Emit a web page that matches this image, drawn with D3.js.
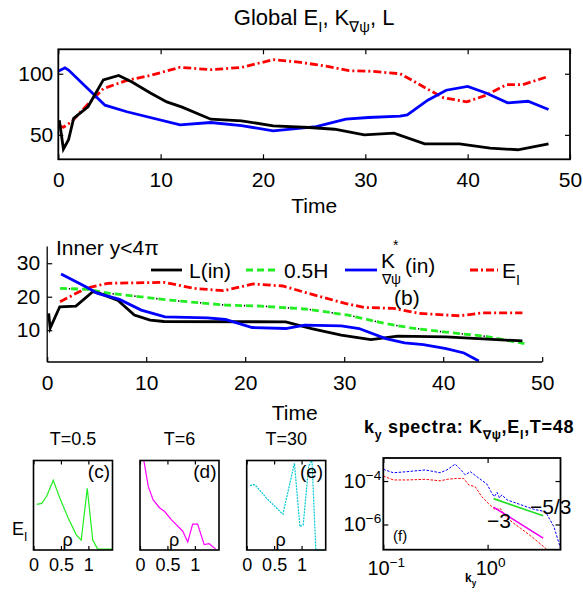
<!DOCTYPE html>
<html>
<head>
<meta charset="utf-8">
<script src="https://cdn.jsdelivr.net/npm/d3@7"></script>
<style>
  body { margin: 0; background: #fff; }
  text { fill: #000; }
</style>
</head>
<body>
<div id="graf"></div>
<script>
// ---- data ----

// (a) global quantities vs time
const tL = [0.1, 0.5, 1.0, 1.5, 2.9, 4.4, 5.9, 7.2, 9.0, 10.6, 12.1, 14.9, 17.9, 21.0, 24.5, 27.0, 29.9, 32.8, 35.8, 39.2, 42.2, 44.9, 47.9]
const valL = [62, 38.4, 46, 63.5, 73, 95, 98.6, 93.2, 84.3, 77, 72.7, 62.8, 61.5, 57.4, 56, 54.6, 50, 51.4, 42.7, 42.6, 39.2, 37.8, 42.7]
const tK = [0, 0.65, 1.0, 4.56, 6.7, 11.9, 14.9, 17.9, 21.0, 25.2, 28.1, 30.3, 33.4, 34.1, 36.1, 37.9, 40.0, 41.8, 43.9, 45.9, 47.9]
const valK = [102, 104.9, 103, 74.3, 68.9, 58.1, 60.1, 57.6, 53.3, 56.8, 62.8, 64.2, 65.4, 66.4, 78.4, 86.5, 89.7, 84.3, 76.2, 77.5, 70.8]
const tE = [0, 0.5, 1.3, 2.8, 4.4, 6.7, 9.0, 11.9, 14.9, 17.9, 21.0, 23.7, 26.3, 28.4, 30.6, 33.4, 34.3, 36.0, 37.6, 39.9, 41.8, 43.8, 45.4, 47.9]
const valE = [57.3, 56.2, 60.8, 74.3, 87.8, 94.6, 98.6, 105.3, 103.3, 105.2, 111.5, 109.3, 106, 102.5, 102, 100, 95.9, 87.8, 80.5, 77, 82.4, 91.1, 91.1, 97.8]

// (b) inner region y < 4pi
const tLin = [0.15, 0.3, 1.27, 2.9, 4.6, 5.3, 7.1, 8.8, 10.4, 11.8, 24.1, 26.7, 29.7, 32.7, 35.4, 40.3, 44, 48]
const valLin = [15, 10.6, 17, 17.2, 21.5, 21, 19, 14.5, 13, 12.6, 12.5, 10.5, 8.5, 7.2, 8.2, 8, 7.4, 6.8]
const tH = [1.3, 4, 6.3, 12.3, 18, 21.6, 26.2, 30.4, 34.1, 36.7, 40, 44.2, 48.2]
const valH = [22.5, 22.2, 21, 19, 17.5, 17.2, 16.3, 14.5, 12, 10.7, 9.5, 8.2, 6]
const tKin = [1.4, 3.9, 5.1, 7.3, 9.5, 11.9, 16.2, 18, 20.7, 24.1, 26, 29.7, 31.5, 34.2, 36.1, 38, 40.3, 42.1, 43.6]
const valKin = [26.8, 23, 21, 19.2, 16, 14, 13.7, 13.2, 10.8, 10.5, 11.5, 11.3, 10.5, 7.5, 6.2, 5.7, 4.5, 3.2, 0.8]
const tEin = [1.3, 3.9, 6.1, 11.8, 14.8, 17.8, 20.8, 23.8, 26.4, 30.1, 32, 35, 37.6, 41.7, 44, 48]
const valEin = [18.5, 22.5, 24, 24.3, 22.5, 21.8, 23.8, 23.2, 21, 18, 16.8, 16.5, 15, 14.3, 15.2, 15.2]

const timeTicks = [0, 10, 20, 30, 40, 50]

// (c)-(e) radial profiles of E_I (normalised)
const rhoC = [0.06, 0.15, 0.24, 0.36, 0.48, 0.63, 0.78, 0.87, 0.98, 1.08, 1.17, 1.44]
const eC = [0.51, 0.52, 0.6, 0.78, 0.58, 0.36, 0.17, 0.11, 0.69, 0.11, 0.01, 0.01]
const rhoD = [0.07, 0.15, 0.24, 0.36, 0.45, 0.57, 0.78, 0.87, 0.96, 1.05, 1.17, 1.26, 1.38]
const eD = [1.0, 0.71, 0.56, 0.47, 0.43, 0.34, 0.21, 0.09, 0.29, 0.29, 0.06, 0.07, 0.01]
const rhoE = [0.06, 0.13, 0.18, 0.36, 0.51, 0.66, 0.87, 0.97, 1.03, 1.13, 1.19, 1.26, 1.41]
const eE = [0.72, 0.73, 0.71, 0.58, 0.49, 0.40, 0.97, 0.26, 0.28, 0.94, 1.0, 0.0, 0.0]
const rhoTicks = [0, 0.5, 1]

// (f) k_y spectra at T=48
const kyK = [0.1, 0.125, 0.168, 0.252, 0.351, 0.407, 0.489, 0.538, 0.611, 0.682, 0.791, 0.986, 1.10, 1.16, 1.23, 1.30, 1.37, 1.54, 1.92, 2.77, 3.59, 4.32, 5.0]
const specK = [3.47e-4, 2.4e-4, 2.69e-4, 3.24e-4, 2.4e-4, 3.24e-4, 6.03e-4, 3.8e-4, 1.91e-4, 2.69e-4, 1.58e-4, 7.2e-5, 2.7e-5, 1.9e-5, 3.0e-5, 1.7e-5, 2.3e-5, 1.35e-5, 9.3e-6, 5.0e-6, 3.9e-6, 7.9e-7, 8.1e-8]
const kyE = [0.1, 0.125, 0.168, 0.252, 0.351, 0.41, 0.5, 0.59, 0.66, 0.76, 0.88, 1.02, 1.19, 1.32, 1.54, 1.78, 2.06, 2.39, 2.77, 3.45, 3.72]
const specE = [1.7e-4, 1.12e-4, 1.12e-4, 1.2e-4, 1.02e-4, 1.2e-4, 1.32e-4, 1.32e-4, 6.6e-5, 5.5e-5, 1.9e-5, 9.3e-6, 4.7e-6, 5.5e-6, 1.95e-6, 1.15e-6, 6.8e-7, 4.0e-7, 2.3e-7, 9.5e-8, 6.9e-8]
const guideK = [1.14, 3.41]
const guideStart = [1.55e-5, 6.3e-6]
const guideSlope = [-5 / 3, -3]

// ---- drawing ----
const svg = d3.select('#graf').append('svg')
    .attr('width', 583)
    .attr('height', 593)
    .style('font-family', '"Liberation Sans", Arial, Helvetica, sans-serif')

const zip = (xs, ys) => xs.map((x, i) => [x, ys[i]])

// text with sub/superscripts: parts = [[string, 'n'|'sub'|'sup'], ...]
const rich = (g, x, y, parts, size, anchor = 'start', weight = 'normal') => {
    const t = g.append('text')
        .attr('x', x).attr('y', y)
        .attr('font-size', size)
        .attr('font-weight', weight)
        .attr('text-anchor', anchor)
    let shift = 0
    parts.forEach(([s, k]) => {
        const target = k === 'sub' ? size * 0.32 : k === 'sup' ? -size * 0.42 : 0
        t.append('tspan')
            .attr('dy', target - shift)
            .attr('font-size', k === 'n' ? size : size * 0.68)
            .text(s)
        shift = target
    })
    return t
}

const axis = (g, gen, size) => {
    g.call(gen)
    g.attr('font-family', null).attr('font-size', size)
    g.select('.domain').remove()
    g.selectAll('line').attr('stroke', '#000').attr('stroke-width', 1.2)
    return g
}

// ===== panel (a) =====
const xA = d3.scaleLinear([0, 50], [58.3, 570])
const yA = d3.scaleLinear([30, 120], [159.3, 49.3])
const gA = svg.append('g')

const lineA = d3.line().x(d => xA(d[0])).y(d => yA(d[1]))
gA.append('path').datum(zip(tE, valE)).attr('d', lineA)
    .attr('fill', 'none').attr('stroke', '#ff0000').attr('stroke-width', 2.8)
    .attr('stroke-dasharray', '8,3,2,3')
gA.append('path').datum(zip(tK, valK)).attr('d', lineA)
    .attr('fill', 'none').attr('stroke', '#0000ff').attr('stroke-width', 2.8)
gA.append('path').datum(zip(tL, valL)).attr('d', lineA)
    .attr('fill', 'none').attr('stroke', '#000').attr('stroke-width', 2.8)

gA.append('rect')
    .attr('x', xA(0)).attr('y', yA(120))
    .attr('width', xA(50) - xA(0)).attr('height', yA(30) - yA(120))
    .attr('fill', 'none').attr('stroke', '#000').attr('stroke-width', 1.8)

axis(gA.append('g').attr('transform', `translate(0,${yA(30)})`),
    d3.axisBottom(xA).tickValues(timeTicks).tickSize(-5).tickPadding(12.5), 21)
axis(gA.append('g').attr('transform', `translate(0,${yA(120)})`),
    d3.axisTop(xA).tickValues(timeTicks).tickSize(-5).tickFormat(''), 21)
axis(gA.append('g').attr('transform', `translate(${xA(0)},0)`),
    d3.axisLeft(yA).tickValues([50, 100]).tickSize(-5).tickPadding(5), 21)
axis(gA.append('g').attr('transform', `translate(${xA(50)},0)`),
    d3.axisRight(yA).tickValues([50, 100]).tickSize(-5).tickFormat(''), 21)

rich(gA, (xA(0) + xA(50)) / 2, 25,
    [['Global E', 'n'], ['I', 'sub'], [', K', 'n'], ['∇ψ', 'sub'], [', L', 'n']], 22, 'middle')
gA.append('text').attr('x', (xA(0) + xA(50)) / 2).attr('y', 213)
    .attr('text-anchor', 'middle').attr('font-size', 21).text('Time')

// ===== panel (b) =====
const xB = d3.scaleLinear([0, 50], [47.2, 542.2])
const yB = d3.scaleLinear([0.5, 35], [362, 246.5])
const gB = svg.append('g')
const lineB = d3.line().x(d => xB(d[0])).y(d => yB(d[1]))

gB.append('path').datum(zip(tEin, valEin)).attr('d', lineB)
    .attr('fill', 'none').attr('stroke', '#ff0000').attr('stroke-width', 2.8)
    .attr('stroke-dasharray', '8,3,2,3')
gB.append('path').datum(zip(tH, valH)).attr('d', lineB)
    .attr('fill', 'none').attr('stroke', '#22ee22').attr('stroke-width', 2.8)
    .attr('stroke-dasharray', '7,4')
gB.append('path').datum(zip(tH, valH)).attr('d', lineB)
    .attr('fill', 'none').attr('stroke', '#000').attr('stroke-width', 1.6)
    .attr('stroke-dasharray', '1.3,20.7').attr('stroke-dashoffset', -8.8)
gB.append('path').datum(zip(tLin, valLin)).attr('d', lineB)
    .attr('fill', 'none').attr('stroke', '#000').attr('stroke-width', 2.8)
gB.append('path').datum(zip(tKin, valKin)).attr('d', lineB)
    .attr('fill', 'none').attr('stroke', '#0000ff').attr('stroke-width', 2.8)

gB.append('line').attr('x1', xB(0)).attr('x2', xB(0)).attr('y1', yB(35)).attr('y2', yB(0.5))
    .attr('stroke', '#000').attr('stroke-width', 1.3)
gB.append('line').attr('x1', xB(0)).attr('x2', xB(50)).attr('y1', yB(0.5)).attr('y2', yB(0.5))
    .attr('stroke', '#000').attr('stroke-width', 1.3)

axis(gB.append('g').attr('transform', `translate(0,${yB(0.5)})`),
    d3.axisBottom(xB).tickValues(timeTicks).tickSize(-5).tickPadding(13), 21)
axis(gB.append('g').attr('transform', `translate(${xB(0)},0)`),
    d3.axisLeft(yB).tickValues([10, 20, 30]).tickSize(-5).tickPadding(7), 21)

gB.append('text').attr('x', (xB(0) + xB(50)) / 2).attr('y', 420)
    .attr('text-anchor', 'middle').attr('font-size', 21).text('Time')
gB.append('text').attr('x', 56).attr('y', 255).attr('font-size', 21).text('Inner y<4π')
gB.append('text').attr('x', 394).attr('y', 305).attr('font-size', 21).text('(b)')

// legend
const legY = 270
const legSample = (x1, x2, color, dash) => gB.append('line')
    .attr('x1', x1).attr('x2', x2).attr('y1', legY).attr('y2', legY)
    .attr('stroke', color).attr('stroke-width', 2.8).attr('stroke-dasharray', dash)
legSample(151, 182, '#000', null)
gB.append('text').attr('x', 189).attr('y', 278).attr('font-size', 21).text('L(in)')
legSample(246, 277, '#22ee22', '7,4')
gB.append('text').attr('x', 284).attr('y', 278).attr('font-size', 21).text('0.5H')
legSample(345, 377, '#0000ff', null)
const kLab = gB.append('text').attr('font-size', 21)
kLab.append('tspan').attr('x', 381).attr('y', 268).text('K')
kLab.append('tspan').attr('x', 393).attr('y', 250).attr('font-size', 14).text('*')
kLab.append('tspan').attr('x', 382).attr('y', 284).attr('font-size', 14).text('∇ψ')
kLab.append('tspan').attr('x', 405).attr('y', 273).text('(in)')
legSample(470, 498, '#ff0000', '8,3,2,3')
rich(gB, 502, 278, [['E', 'n'], ['I', 'sub']], 21)

// ===== panels (c)-(e) =====
const profiles = [
    { title: 'T=0.5', tag: '(c)', rho: rhoC, val: eC, color: '#22ee22', dash: null },
    { title: 'T=6', tag: '(d)', rho: rhoD, val: eD, color: '#ff00ff', dash: null },
    { title: 'T=30', tag: '(e)', rho: rhoE, val: eE, color: '#00c8d2', dash: '2,1' },
]
const boxLefts = [33.5, 140, 246.7]
const boxW = 79
profiles.forEach((p, i) => {
    const left = boxLefts[i]
    const x = d3.scaleLinear([0, 1.44], [left, left + boxW])
    const y = d3.scaleLinear([0, 1], [550, 460.5])
    const g = svg.append('g')
    g.append('path').datum(zip(p.rho, p.val))
        .attr('d', d3.line().x(d => x(d[0])).y(d => y(d[1])))
        .attr('fill', 'none').attr('stroke', p.color).attr('stroke-width', 1.2)
        .attr('stroke-dasharray', p.dash)
    g.append('rect').attr('x', left).attr('y', y(1)).attr('width', boxW).attr('height', y(0) - y(1))
        .attr('fill', 'none').attr('stroke', '#000').attr('stroke-width', 1.6)
    axis(g.append('g').attr('transform', `translate(0,${y(0)})`),
        d3.axisBottom(x).tickValues(rhoTicks).tickSize(-4).tickPadding(8).tickFormat(d => String(d)), 18)
    axis(g.append('g').attr('transform', `translate(0,${y(1)})`),
        d3.axisTop(x).tickValues(rhoTicks).tickSize(-4).tickFormat(''), 18)
    g.append('text').attr('x', left + boxW / 2).attr('y', 445)
        .attr('text-anchor', 'middle').attr('font-size', 18).text(p.title)
    g.append('text').attr('x', left + boxW - 2.5).attr('y', 478)
        .attr('text-anchor', 'end').attr('font-size', 19).text(p.tag)
    g.append('text').attr('x', left + 34).attr('y', 546)
        .attr('text-anchor', 'middle').attr('font-size', 18).text('ρ')
})
rich(svg, 12, 535, [['E', 'n'], ['I', 'sub']], 18)

// ===== panel (f) =====
const xF = d3.scaleLog([0.1, 5], [383.3, 560.5])
const yF = d3.scaleLog([Math.pow(10, -7.16), Math.pow(10, -2.94)], [549.7, 458])
const gF = svg.append('g')
const lineF = d3.line().x(d => xF(d[0])).y(d => yF(d[1]))
gF.append('path').datum(zip(kyE, specE)).attr('d', lineF)
    .attr('fill', 'none').attr('stroke', '#ff0000').attr('stroke-width', 1)
    .attr('stroke-dasharray', '2.5,1.5')
gF.append('path').datum(zip(kyK, specK)).attr('d', lineF)
    .attr('fill', 'none').attr('stroke', '#0000ff').attr('stroke-width', 1)
    .attr('stroke-dasharray', '2.5,1.5')
const guideColors = ['#22dd22', '#ee00ee']
guideSlope.forEach((s, i) => {
    const pts = guideK.map(k => [k, guideStart[i] * Math.pow(k / guideK[0], s)])
    gF.append('path').datum(pts).attr('d', lineF)
        .attr('fill', 'none').attr('stroke', guideColors[i]).attr('stroke-width', 1.6)
})
gF.append('rect').attr('x', xF(0.1)).attr('y', yF.range()[1])
    .attr('width', xF(5) - xF(0.1)).attr('height', yF.range()[0] - yF.range()[1])
    .attr('fill', 'none').attr('stroke', '#000').attr('stroke-width', 1.8)
axis(gF.append('g').attr('transform', `translate(0,${yF.range()[0]})`),
    d3.axisBottom(xF).tickValues([0.1, 1]).tickSize(-5).tickFormat(''), 18)
axis(gF.append('g').attr('transform', `translate(0,${yF.range()[1]})`),
    d3.axisTop(xF).tickValues([0.1, 1]).tickSize(-5).tickFormat(''), 18)
axis(gF.append('g').attr('transform', `translate(${xF(0.1)},0)`),
    d3.axisLeft(yF).tickValues([1e-4, 1e-6]).tickSize(-5).tickFormat(''), 18)
axis(gF.append('g').attr('transform', `translate(${xF(5)},0)`),
    d3.axisRight(yF).tickValues([1e-4, 1e-6]).tickSize(-5).tickFormat(''), 18)

const expLabel = v => Math.round(Math.log10(v)).toString().replace('-', '−')
;[0.1, 1].forEach(v => {
    rich(gF, xF(v) + 3, 575, [['10', 'n'], [expLabel(v), 'sup']], 20, 'middle')
})
;[1e-4, 1e-6].forEach(v => {
    rich(gF, xF(0.1) - 2, yF(v) + 7, [['10', 'n'], [expLabel(v), 'sup']], 20, 'end')
})
rich(gF, 364, 433, [['k', 'n'], ['y', 'sub'], [' spectra: K', 'n'], ['∇ψ', 'sub'], [',E', 'n'], ['I', 'sub'], [',T=48', 'n']], 18, 'start', 'bold')
    .attr('letter-spacing', 0.7)
rich(gF, 465, 582, [['k', 'n'], ['y', 'sub']], 12, 'start', 'bold')
gF.append('text').attr('x', 393).attr('y', 541).attr('font-size', 15).text('(f)')
gF.append('text').attr('x', 487).attr('y', 528).attr('font-size', 21).text('−3')
gF.append('text').attr('x', 530).attr('y', 514).attr('font-size', 21).text('−5/3')
</script>
</body>
</html>
